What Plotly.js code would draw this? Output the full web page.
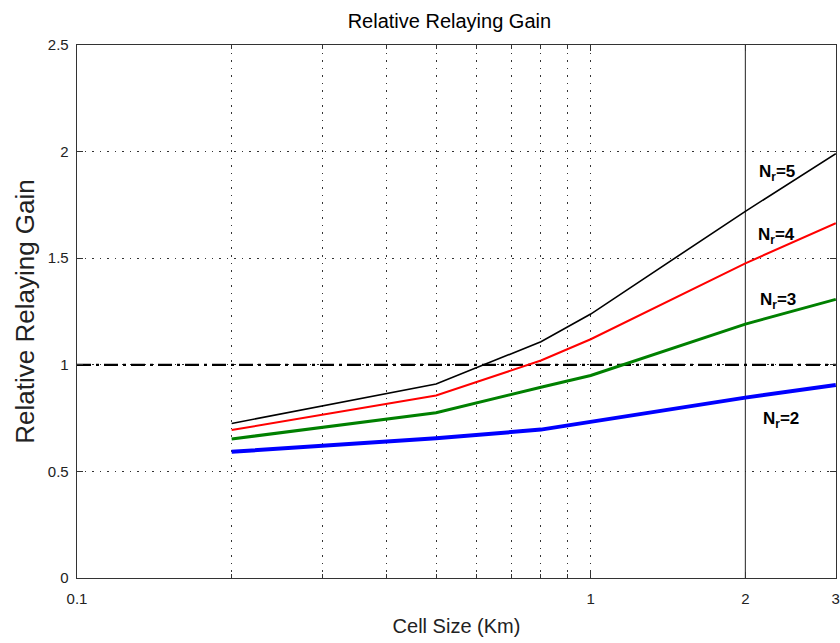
<!DOCTYPE html>
<html>
<head>
<meta charset="utf-8">
<script src="https://cdn.plot.ly/plotly-3.0.1.min.js"></script>
<style>html,body{margin:0;padding:0;background:#fff;}#chart{width:840px;height:643px;}</style>
</head>
<body>
<div id="chart"></div>
<script>
// Data
const cellSize = [0.2, 0.5, 0.8, 1, 2, 3];
const gainNr5 = [0.725, 0.91, 1.108, 1.238, 1.72, 1.99];
const gainNr4 = [0.694, 0.856, 1.02, 1.12, 1.476, 1.664];
const gainNr3 = [0.652, 0.775, 0.895, 0.95, 1.191, 1.307];
const gainNr2 = [0.592, 0.655, 0.696, 0.733, 0.846, 0.905];
const refGainX = [0.1, 3];
const refGainY = [1, 1];
const refSizeX = [2, 2];
const refSizeY = [0, 2.5];
const xTickVals = [0.1, 1, 2, 3];
const xTickText = ['0.1', '1', '2', '3'];
const xMinorVals = [0.2, 0.3, 0.4, 0.5, 0.6, 0.7, 0.8, 0.9, 1];
const yTickVals = [0, 0.5, 1, 1.5, 2, 2.5];
const yTickText = ['0', '0.5', '1', '1.5', '2', '2.5'];
const labels = ['N<sub>r</sub>=5', 'N<sub>r</sub>=4', 'N<sub>r</sub>=3', 'N<sub>r</sub>=2'];
const labelX = [2.3, 2.3, 2.32, 2.35];
const labelY = [1.9, 1.605, 1.3, 0.74];

const font = 'Liberation Sans, Arial, Helvetica, sans-serif';

const traces = [
  {x: refSizeX, y: refSizeY, mode: 'lines', line: {color: '#222', width: 1}, hoverinfo: 'skip'},
  {x: refGainX, y: refGainY, mode: 'lines', line: {color: '#000', width: 2.2, dash: '14px,5px,3px,5px'}},
  {x: cellSize, y: gainNr2, mode: 'lines', line: {color: '#0000ff', width: 4}},
  {x: cellSize, y: gainNr3, mode: 'lines', line: {color: '#008000', width: 3}},
  {x: cellSize, y: gainNr4, mode: 'lines', line: {color: '#ff0000', width: 2}},
  {x: cellSize, y: gainNr5, mode: 'lines', line: {color: '#000000', width: 1.6}}
];

const annotations = labels.map((t, i) => ({
  x: Math.log10(labelX[i]), y: labelY[i], xref: 'x', yref: 'y',
  text: '<b>' + t + '</b>', showarrow: false,
  font: {family: font, size: 17, color: '#000'}
}));

const layout = {
  width: 840, height: 643,
  margin: {l: 77, r: 4, t: 45, b: 65},
  paper_bgcolor: '#fff', plot_bgcolor: '#fff',
  showlegend: false,
  title: {text: 'Relative Relaying Gain', font: {family: font, size: 20, color: '#000'}, x: 0.535, xanchor: 'center', y: 0.978, yanchor: 'top'},
  xaxis: {
    type: 'log', range: [-1, Math.log10(3) + 0.0004],
    tickmode: 'array', tickvals: xTickVals, ticktext: xTickText,
    ticks: 'inside', ticklen: 6, tickcolor: '#333', tickwidth: 1,
    ticklabeloverflow: 'allow', ticklabelstandoff: 7,
    showgrid: false, zeroline: false,
    showline: true, linecolor: '#333', linewidth: 1.3, mirror: 'ticks',
    tickfont: {family: font, size: 15, color: '#222'},
    title: {text: 'Cell Size (Km)', font: {family: font, size: 20, color: '#222'}, standoff: 12},
    minor: {tickmode: 'array', tickvals: xMinorVals, ticks: 'inside', ticklen: 4, tickcolor: '#333',
            showgrid: true, gridcolor: '#333', gridwidth: 1, griddash: '1.5px,6px'}
  },
  yaxis: {
    range: [0, 2.5],
    tickmode: 'array', tickvals: yTickVals, ticktext: yTickText,
    ticks: 'inside', ticklen: 6, tickcolor: '#333',
    ticklabelstandoff: 4,
    showgrid: true, gridcolor: '#333', gridwidth: 1, griddash: '1.5px,6px',
    zeroline: false,
    showline: true, linecolor: '#333', linewidth: 1.3, mirror: 'ticks',
    tickfont: {family: font, size: 15, color: '#222'},
    title: {text: 'Relative Relaying Gain', font: {family: font, size: 26, color: '#222'}, standoff: 5}
  },
  annotations: annotations
};

Plotly.newPlot('chart', traces, layout, {displayModeBar: false, staticPlot: true});
</script>
</body>
</html>
